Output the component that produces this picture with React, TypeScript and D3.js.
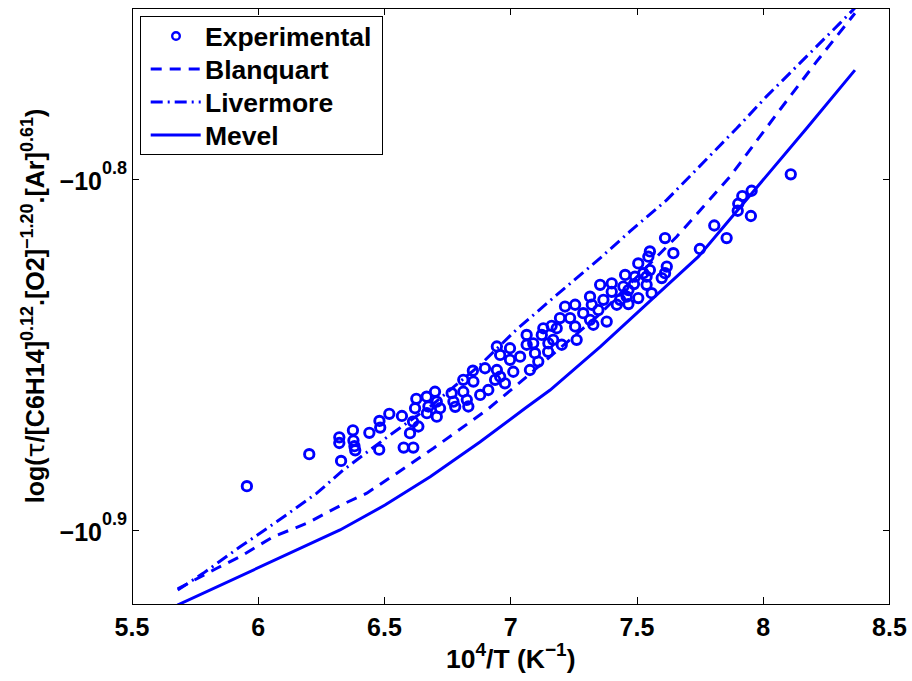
import React from 'react';
import * as d3 from 'd3';

// x = 10^4/T (K^-1), y stored as the exponent e of the plotted value -10^e
const xTicks = [5.5, 6, 6.5, 7, 7.5, 8, 8.5];
const yTicks = [0.8, 0.9];
const seriesNames = ['Experimental', 'Blanquart', 'Livermore', 'Mevel'];

const experimental: [number, number][] = [
  [5.955, 0.8873], [6.202, 0.8782], [6.321, 0.8734], [6.321, 0.875], [6.328, 0.8801],
  [6.375, 0.8714], [6.377, 0.8743], [6.381, 0.8759], [6.384, 0.8771], [6.44, 0.8721],
  [6.48, 0.8687], [6.483, 0.8706], [6.479, 0.8769], [6.519, 0.8667], [6.569, 0.8673],
  [6.576, 0.8763], [6.601, 0.8722], [6.613, 0.8689], [6.614, 0.8763], [6.621, 0.8651],
  [6.626, 0.8624], [6.634, 0.8703], [6.667, 0.8618], [6.668, 0.8665], [6.674, 0.8646],
  [6.7, 0.8604], [6.707, 0.8632], [6.707, 0.8675], [6.72, 0.8651], [6.766, 0.8608],
  [6.773, 0.8632], [6.78, 0.8647], [6.812, 0.857], [6.812, 0.8604], [6.826, 0.8627],
  [6.832, 0.8646], [6.85, 0.8544], [6.852, 0.8575], [6.879, 0.8613], [6.898, 0.8537],
  [6.911, 0.8599], [6.938, 0.857], [6.945, 0.8475], [6.945, 0.8542], [6.958, 0.8499],
  [6.958, 0.8561], [6.977, 0.858], [6.997, 0.848], [6.997, 0.8513], [7.01, 0.8547],
  [7.037, 0.8504], [7.063, 0.8442], [7.063, 0.847], [7.076, 0.8542], [7.089, 0.8466],
  [7.096, 0.8494], [7.109, 0.8518], [7.123, 0.8442], [7.129, 0.8423], [7.148, 0.849],
  [7.149, 0.8466], [7.162, 0.8416], [7.168, 0.8456], [7.182, 0.8423], [7.195, 0.8394],
  [7.202, 0.847], [7.215, 0.8361], [7.235, 0.8394], [7.255, 0.8356], [7.255, 0.8418],
  [7.261, 0.8456], [7.287, 0.838], [7.314, 0.8399], [7.314, 0.8333], [7.321, 0.8356],
  [7.327, 0.8413], [7.347, 0.8371], [7.354, 0.8299], [7.367, 0.8342], [7.38, 0.8404],
  [7.4, 0.8295], [7.4, 0.8319], [7.42, 0.8356], [7.433, 0.8342], [7.446, 0.8304],
  [7.453, 0.8271], [7.459, 0.8333], [7.466, 0.8314], [7.466, 0.8354], [7.488, 0.8297],
  [7.492, 0.8276], [7.505, 0.8238], [7.505, 0.8337], [7.525, 0.8266], [7.538, 0.8276],
  [7.538, 0.8299], [7.545, 0.8219], [7.551, 0.8204], [7.551, 0.8257], [7.558, 0.8323],
  [7.598, 0.828], [7.611, 0.8166], [7.611, 0.8266], [7.618, 0.8247], [7.644, 0.8209],
  [7.749, 0.8197], [7.806, 0.813], [7.855, 0.8166], [7.899, 0.8088], [7.901, 0.8068],
  [7.917, 0.8046], [7.951, 0.8103], [7.954, 0.8031], [8.109, 0.7984],
];

const blanquart: [number, number][] = [
  [5.681, 0.9166], [5.836, 0.9107], [5.928, 0.9074], [6.06, 0.9017], [6.192, 0.8979],
  [6.337, 0.8924], [6.43, 0.8893], [6.549, 0.8836], [6.694, 0.8765], [6.905, 0.8656],
  [7.024, 0.8585], [7.354, 0.8382], [7.657, 0.8162], [7.868, 0.7991], [8.066, 0.78],
  [8.211, 0.7663], [8.363, 0.7525],
];

const livermore: [number, number][] = [
  [5.681, 0.9169], [5.783, 0.9121], [5.928, 0.9046], [6.074, 0.8974], [6.232, 0.8893],
  [6.337, 0.8827], [6.522, 0.8727], [6.681, 0.8646], [6.878, 0.8528], [7.024, 0.8426],
  [7.182, 0.8328], [7.354, 0.8223], [7.472, 0.8147], [7.618, 0.8057], [7.895, 0.7853],
  [8.013, 0.7762], [8.158, 0.7658], [8.304, 0.7553], [8.363, 0.751],
];

const mevel: [number, number][] = [
  [5.68, 0.9212], [6.324, 0.8998], [6.502, 0.8927], [6.681, 0.8846], [6.878, 0.8747],
  [7.057, 0.8651], [7.156, 0.8599], [7.354, 0.8476], [7.578, 0.8328], [7.743, 0.8219],
  [8.172, 0.7853], [8.363, 0.7687],
];

const blue = '#0000ff';
const font = '"Liberation Sans", Arial, Helvetica, sans-serif';

export default function App() {
  const width = 912;
  const height = 681;
  const plot = { left: 132, right: 889.5, top: 8, bottom: 604 };

  const x = d3.scaleLinear().domain([5.5, 8.5]).range([plot.left, plot.right]);
  const y = d3.scaleLinear().domain([0.751, 0.9209]).range([plot.top, plot.bottom]);
  const line = d3.line<[number, number]>().x(d => x(d[0])).y(d => y(d[1]));

  const tickLen = 7;
  const dashes: Record<string, string | undefined> = {
    Blanquart: '11,8',
    Livermore: '12,5,2,5',
    Mevel: undefined,
  };
  const lines: [string, [number, number][]][] = [
    ['Blanquart', blanquart],
    ['Livermore', livermore],
    ['Mevel', mevel],
  ];

  const legend = { x: 140.7, y: 16, w: 241.3, h: 138, row0: 36, rowStep: 33 };

  return (
    <svg width={width} height={height} style={{ position: 'absolute', left: 0, top: 0, background: '#fff' }}
      fontFamily={font} fontWeight="bold">
      <rect x={0} y={0} width={width} height={height} fill="#fff" />
      <defs>
        <clipPath id="plotClip">
          <rect x={plot.left} y={plot.top} width={plot.right - plot.left} height={plot.bottom - plot.top} />
        </clipPath>
      </defs>

      {/* model curves */}
      <g clipPath="url(#plotClip)" fill="none" stroke={blue} strokeWidth={3}>
        {lines.map(([name, pts]) => (
          <path key={name} d={line(pts) || ''} strokeDasharray={dashes[name]} />
        ))}
      </g>

      {/* experimental points */}
      <g clipPath="url(#plotClip)" fill="none" stroke={blue} strokeWidth={2.9}>
        {experimental.map((d, i) => (
          <circle key={i} cx={x(d[0])} cy={y(d[1])} r={4.7} />
        ))}
      </g>

      {/* axes box and ticks */}
      <g stroke="#000" strokeWidth={1} shapeRendering="crispEdges" fill="none">
        <rect x={plot.left} y={plot.top} width={plot.right - plot.left} height={plot.bottom - plot.top} />
        {xTicks.map(t => (
          <g key={t}>
            <line x1={x(t)} x2={x(t)} y1={plot.bottom} y2={plot.bottom - tickLen} />
            <line x1={x(t)} x2={x(t)} y1={plot.top} y2={plot.top + tickLen} />
          </g>
        ))}
        {yTicks.map(t => (
          <g key={t}>
            <line x1={plot.left} x2={plot.left + tickLen} y1={y(t)} y2={y(t)} />
            <line x1={plot.right} x2={plot.right - tickLen} y1={y(t)} y2={y(t)} />
          </g>
        ))}
      </g>

      {/* tick labels */}
      <g fontSize={25} fill="#000">
        {xTicks.map(t => (
          <text key={t} x={x(t)} y={636} textAnchor="middle">{String(t)}</text>
        ))}
        {yTicks.map(t => (
          <text key={t} x={127} y={y(t) + 10} textAnchor="end">
            <tspan>−10</tspan>
            <tspan fontSize={18} dy={-16}>{t.toFixed(1)}</tspan>
          </text>
        ))}
      </g>

      {/* x axis title */}
      <text x={(plot.left + plot.right) / 2} y={668} textAnchor="middle" fontSize={26.5} fill="#000">
        <tspan>10</tspan>
        <tspan fontSize={19} dy={-12}>4</tspan>
        <tspan dy={12}>/T (K</tspan>
        <tspan fontSize={19} dy={-12}>−1</tspan>
        <tspan dy={12}>)</tspan>
      </text>

      {/* y axis title */}
      <text transform={`translate(44,${(plot.top + plot.bottom) / 2}) rotate(-90)`} textAnchor="middle"
        fontSize={25} fill="#000">
        <tspan>log(</tspan>
        <tspan fontWeight="normal" fontFamily='"DejaVu Sans", sans-serif'>τ</tspan>
        <tspan>/[C6H14]</tspan>
        <tspan fontSize={18} dy={-11}>0.12</tspan>
        <tspan dy={11}>.[O2]</tspan>
        <tspan fontSize={18} dy={-11}>−1.20</tspan>
        <tspan dy={11}>.[Ar]</tspan>
        <tspan fontSize={18} dy={-11}>0.61</tspan>
        <tspan dy={11}>)</tspan>
      </text>

      {/* legend */}
      <g>
        <rect x={legend.x} y={legend.y} width={legend.w} height={legend.h} fill="#fff" stroke="#000"
          strokeWidth={1} shapeRendering="crispEdges" />
        {seriesNames.map((name, i) => {
          const cy = legend.row0 + i * legend.rowStep;
          return (
            <g key={name}>
              {name === 'Experimental' ? (
                <circle cx={176} cy={cy} r={3.8} fill="none" stroke={blue} strokeWidth={2.4} />
              ) : (
                <line x1={150.7} x2={200.7} y1={cy} y2={cy} stroke={blue} strokeWidth={3}
                  strokeDasharray={dashes[name]} />
              )}
              <text x={205} y={cy + 9.5} fontSize={26.5} fill="#000">{name}</text>
            </g>
          );
        })}
      </g>
    </svg>
  );
}
